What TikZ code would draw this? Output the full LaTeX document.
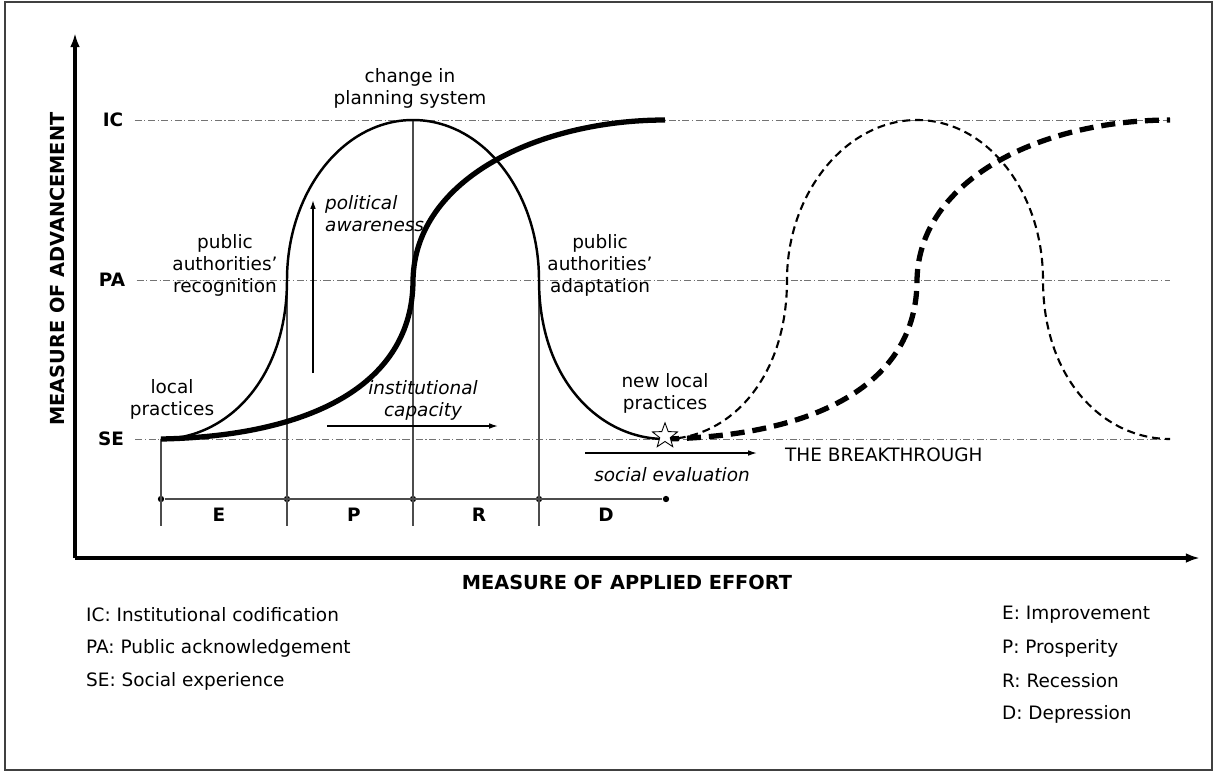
\documentclass[tikz,border=0pt]{standalone}
\usepackage{fontspec}
\setmainfont{DejaVu Sans}
\usetikzlibrary{arrows.meta}
\usetikzlibrary{shapes.geometric}
\tikzstyle{refline} = [black!55, line width=0.5pt, dash pattern=on 4pt off 1.5pt on 0.6pt off 1.5pt, shorten <=3pt]
\tikzstyle{divider} = [black!70, line width=0.6pt]
\tikzstyle{axis} = [line width=2pt, -{Latex[length=8pt,width=5.5pt]}]
\tikzstyle{arrow} = [line width=0.8pt, -{Latex[length=5pt,width=3.2pt]}]
\tikzstyle{bell} = [line width=1.4pt]
\tikzstyle{scurve} = [line width=3pt]
\tikzstyle{txt} = [align=center, font=\fontsize{10.5}{12.5}\selectfont]
\tikzstyle{level} = [font=\bfseries\fontsize{10.5}{12.5}\selectfont]
\tikzstyle{axistitle} = [font=\bfseries\fontsize{11}{13}\selectfont]
\tikzstyle{dot} = [circle, fill=black, inner sep=0pt, minimum size=3.6pt]

\begin{document}
\begin{tikzpicture}[x=0.02cm, y=-0.02cm]
	\useasboundingbox (0,0) rectangle (1214,772);
	\draw[black!75, line width=0.8pt] (5,2) rectangle (1212,770);

	% axes
	\coordinate (o) at (75,558);
	\coordinate (ytop) at (75,33);
	\coordinate (xend) at (1200,558);
	\draw[axis] (o) -- (ytop);
	\draw[axis] (o) -- (xend);
	\node[axistitle, rotate=90] (ylab) at (57,269){MEASURE OF ADVANCEMENT};
	\node[axistitle] (xlab) at (627,582){MEASURE OF APPLIED EFFORT};

	% levels
	\node[level] (ic) at (113,120){IC};
	\node[level] (pa) at (112,280){PA};
	\node[level] (se) at (111,439){SE};
	\coordinate (icend) at (1170,120);
	\coordinate (paend) at (1170,280);
	\coordinate (seend) at (1170,439);
	\draw[refline] (ic) -- (icend);
	\draw[refline] (pa) -- (paend);
	\draw[refline] (se) -- (seend);

	% phases
	\node[dot] (t0) at (161,499){};
	\node[dot] (t1) at (287,499){};
	\node[dot] (t2) at (413,499){};
	\node[dot] (t3) at (539,499){};
	\node[dot] (t4) at (666,499){};
	\draw[divider] (t0) -- (t4);
	\draw[divider] (161,439) -- (161,526);
	\draw[divider] (287,280) -- (287,526);
	\draw[divider] (413,120) -- (413,526);
	\draw[divider] (539,280) -- (539,526);
	\node[level] (e) at (219,515){E};
	\node[level] (p) at (354,515){P};
	\node[level] (r) at (479,515){R};
	\node[level] (d) at (606,515){D};

	% first cycle
	\draw[bell] (161,439) .. controls (226,439) and (287,380) .. (287,280)
		.. controls (287,192) and (343,120) .. (413,120)
		.. controls (483,120) and (539,192) .. (539,280)
		.. controls (539,380) and (600,439) .. (665,439);
	\draw[scurve] (161,439) .. controls (310,436) and (413,385) .. (413,280)
		.. controls (415,178) and (540,120) .. (665,120);

	% second cycle
	\draw[bell, line width=1.2pt, dash pattern=on 4.5pt off 2.8pt] (665,439) .. controls (728,439) and (787,380) .. (787,280)
		.. controls (787,192) and (847,120) .. (917,120)
		.. controls (987,120) and (1043,192) .. (1043,280)
		.. controls (1043,380) and (1104,439) .. (1170,439);
	\draw[scurve, dash pattern=on 8pt off 4.5pt] (665,439) .. controls (814,436) and (917,385) .. (917,280)
		.. controls (919,178) and (1044,120) .. (1170,120);

	\node[star, star points=5, star point ratio=2.4, draw, fill=white, line width=0.5pt,
		minimum size=15pt, inner sep=0pt] (star) at (665,436){};

	% labels
	\node[txt] (change) at (410,88){change in\\planning system};
	\node[txt] (recognition) at (225,265){public\\authorities'\\recognition};
	\node[txt] (adaptation) at (600,265){public\\authorities'\\adaptation};
	\node[txt] (localprac) at (172,399){local\\practices};
	\node[txt] (newprac) at (665,393){new local\\practices};

	\coordinate (aw0) at (313,373);
	\coordinate (aw1) at (313,200);
	\draw[arrow] (aw0) -- (aw1);
	\node[txt, align=left, anchor=west, font=\itshape\fontsize{10.5}{12.5}\selectfont] (awareness) at (319,214){political\\awareness};

	\coordinate (ca0) at (327,426);
	\coordinate (ca1) at (498,426);
	\draw[arrow] (ca0) -- (ca1);
	\node[txt, font=\itshape\fontsize{10.5}{12.5}\selectfont] (capacity) at (423,400){institutional\\capacity};

	\coordinate (ev0) at (585,453);
	\coordinate (ev1) at (757,453);
	\draw[arrow] (ev0) -- (ev1);
	\node[txt, font=\itshape\fontsize{10.5}{12.5}\selectfont] (evaluation) at (672,475){social evaluation};
	\node[txt, anchor=west] (breakthrough) at (779,455){THE BREAKTHROUGH};

	% legend
	\node[txt, anchor=west] (legic) at (80,615){IC: Institutional codification};
	\node[txt, anchor=west] (legpa) at (80,648){PA: Public acknowledgement};
	\node[txt, anchor=west] (legse) at (80,681){SE: Social experience};
	\node[txt, anchor=west] (lege) at (996,615){E: Improvement};
	\node[txt, anchor=west] (legp) at (996,648){P: Prosperity};
	\node[txt, anchor=west] (legr) at (996,681){R: Recession};
	\node[txt, anchor=west] (legd) at (996,714){D: Depression};
\end{tikzpicture}
\end{document}
